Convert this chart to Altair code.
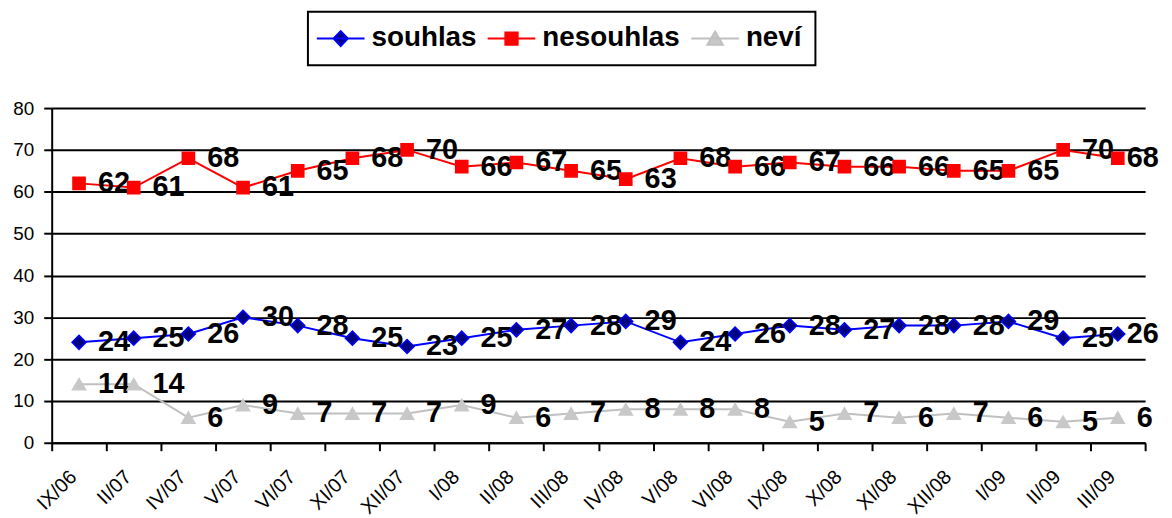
import altair as alt
import pandas as pd

categories = ["IX/06", "II/07", "IV/07", "V/07", "VI/07", "XI/07", "XII/07", "I/08",
              "II/08", "III/08", "IV/08", "V/08", "VI/08", "IX/08", "X/08", "XI/08",
              "XII/08", "I/09", "II/09", "III/09"]
souhlas = [24, 25, 26, 30, 28, 25, 23, 25, 27, 28, 29, 24, 26, 28, 27, 28, 28, 29, 25, 26]
nesouhlas = [62, 61, 68, 61, 65, 68, 70, 66, 67, 65, 63, 68, 66, 67, 66, 66, 65, 65, 70, 68]
nevi = [14, 14, 6, 9, 7, 7, 7, 9, 6, 7, 8, 8, 8, 5, 7, 6, 7, 6, 5, 6]
series_names = ["souhlas", "nesouhlas", "neví"]
y_ticks = [0, 10, 20, 30, 40, 50, 60, 70, 80]

line_colors = ["#0000FF", "#FF0000", "#C0C0C0"]
fill_colors = ["#000080", "#FF0000", "#C8C8C8"]
marker_strokes = ["#0000FF", "#FF0000", "#C8C8C8"]
shapes = ["diamond", "square", "triangle-up"]
sizes = [170, 150, 200]

rows = []
for name, vals in zip(series_names, [souhlas, nesouhlas, nevi]):
    for c, v in zip(categories, vals):
        rows.append({"obdobi": c, "serie": name, "hodnota": v})
df = pd.DataFrame(rows)

FONT = "Liberation Sans"
last_cat = categories[-1]

# marker scales use a differently ordered domain so their (hidden) legends
# are not merged into the line legend
alt_order = sorted(series_names)


def reorder(values):
    lookup = dict(zip(series_names, values))
    return [lookup[n] for n in alt_order]


x_enc = alt.X(
    "obdobi:N", sort=categories,
    scale=alt.Scale(type="band", paddingInner=0, paddingOuter=0),
    axis=alt.Axis(
        title=None, grid=False, tickBand="extent", ticks=True, tickSize=8,
        tickColor="black", tickWidth=2, domainColor="black", domainWidth=2,
        labelAngle=-45, labelAlign="right", labelBaseline="middle",
        labelPadding=23, labelOffset=-6, labelFont=FONT, labelFontSize=20,
        labelColor="black", labelOverlap=False,
    ),
)
y_enc = alt.Y(
    "hodnota:Q",
    scale=alt.Scale(domain=[0, 80], nice=False, zero=True),
    axis=alt.Axis(
        title=None, values=y_ticks, grid=True, gridColor="black", gridWidth=2,
        gridOpacity=1, tickSize=8, tickColor="black", tickWidth=2,
        domainColor="black", domainWidth=2, labelPadding=10, labelFont=FONT,
        labelFontSize=19, labelColor="black",
    ),
)

p_diamond = "M-2.4,0L2.4,0M0,-0.75L0.72,0L0,0.75L-0.72,0Z"
p_square = "M-2.4,0L2.4,0M-0.62,-0.62L0.62,-0.62L0.62,0.62L-0.62,0.62Z"
p_tri = "M-2.4,0L2.4,0M0,-0.7L0.78,0.62L-0.78,0.62Z"
shape_expr = (f"datum.value === 'souhlas' ? '{p_diamond}' : "
              f"(datum.value === 'nesouhlas' ? '{p_square}' : '{p_tri}')")
fill_expr = ("datum.value === 'souhlas' ? '#000080' : "
             "(datum.value === 'nesouhlas' ? '#FF0000' : '#C8C8C8')")
stroke_expr = ("datum.value === 'souhlas' ? '#0000FF' : "
               "(datum.value === 'nesouhlas' ? '#FF0000' : '#C0C0C0')")

legend = alt.Legend(
    title=None, orient="none", legendX=258, legendY=-97, direction="horizontal",
    labelFont=FONT, labelFontSize=28, labelFontWeight="bold", labelColor="black",
    symbolSize=400, symbolStrokeWidth=2, symbolOffset=6, labelOffset=17,
    columnPadding=7, padding=13, strokeColor="black", cornerRadius=0,
    symbolType=alt.ExprRef(shape_expr), symbolFillColor=alt.ExprRef(fill_expr),
    symbolStrokeColor=alt.ExprRef(stroke_expr), symbolOpacity=1,
)

base = alt.Chart(df).encode(x=x_enc, y=y_enc)

lines = base.mark_line(strokeWidth=2).encode(
    color=alt.Color("serie:N", scale=alt.Scale(domain=series_names, range=line_colors),
                    legend=legend),
    detail="serie:N",
)

text_kw = dict(align="left", baseline="middle", font=FONT, fontSize=29,
               fontWeight="bold", color="black")
texts_main = base.transform_filter(
    f"datum.obdobi !== '{last_cat}' || datum.hodnota < 10"
).mark_text(dx=19, **text_kw).encode(text="hodnota:Q", detail="serie:N")
texts_last = base.transform_filter(
    f"datum.obdobi === '{last_cat}' && datum.hodnota >= 10"
).mark_text(dx=9, **text_kw).encode(text="hodnota:Q", detail="serie:N")

points = base.mark_point(filled=True, opacity=1, strokeWidth=1.5).encode(
    shape=alt.Shape("serie:N", scale=alt.Scale(domain=alt_order, range=reorder(shapes)),
                    legend=None),
    fill=alt.Fill("serie:N", scale=alt.Scale(domain=alt_order, range=reorder(fill_colors)),
                  legend=None),
    stroke=alt.Stroke("serie:N", scale=alt.Scale(domain=alt_order, range=reorder(marker_strokes)),
                      legend=None),
    size=alt.Size("serie:N", scale=alt.Scale(domain=alt_order, range=reorder(sizes)),
                  legend=None),
)

chart = alt.layer(lines, texts_main, texts_last, points).properties(
    width=1101, height=337,
    padding={"left": 44, "top": 99, "right": 19, "bottom": 74},
    autosize=alt.AutoSizeParams(type="none"),
    background="white",
).configure_view(strokeWidth=0)

try:
    chart2 = chart.configure_legend(strokeWidth=2)
    chart2.to_dict()
    chart = chart2
except Exception:
    pass

chart.save("out.html", embed_options={"renderer": "svg", "actions": False})
